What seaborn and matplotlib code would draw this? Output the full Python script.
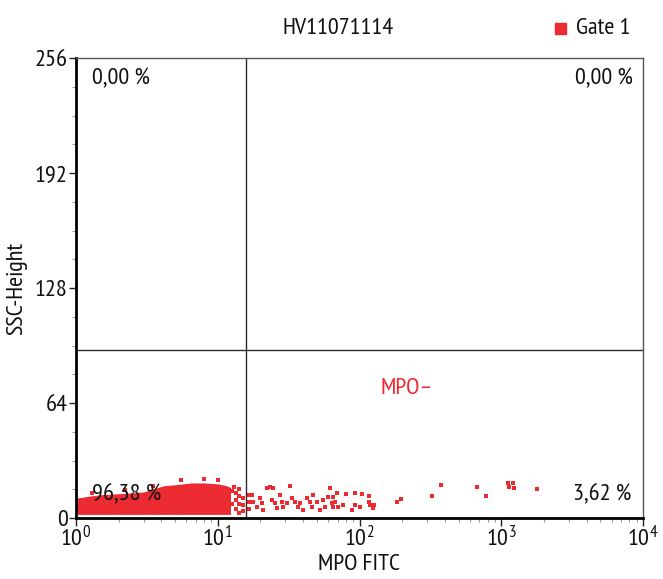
import matplotlib
matplotlib.use("Agg")
import matplotlib.pyplot as plt
from matplotlib import font_manager
from matplotlib.ticker import FixedLocator, LogLocator, NullFormatter
import seaborn as sns
import pandas as pd
import numpy as np

# ---------------- data ----------------
title = "HV11071114"
legend_label = "Gate 1"
x_label = "MPO FITC"
y_label = "SSC-Height"
y_ticks = [0, 64, 128, 192, 256]
x_ticks = [1, 10, 100, 1000, 10000]
x_tick_labels = [r"$\mathdefault{10^{0}}$", r"$\mathdefault{10^{1}}$", r"$\mathdefault{10^{2}}$",
                 r"$\mathdefault{10^{3}}$", r"$\mathdefault{10^{4}}$"]
gate_x = 15.9
gate_y = 93.5
quadrant_labels = ["0,00 %", "0,00 %", "96,38 %", "3,62 %"]
population_label = "MPO–"

# dense population outline (MPO FITC vs SSC-Height)
blob_x = [1.0, 1.2, 1.5, 2.0, 2.5, 3.0, 3.6, 4.2, 5.0, 6.5, 8.0, 10.0, 11.5, 12.3]
blob_top = [11, 12, 13, 13.5, 14, 14.5, 16.5, 18, 18.5, 19.5, 19.5, 19, 18, 17]
blob_bottom = [2, 2, 2, 2, 2, 2, 2, 2, 2, 2, 2, 2, 2, 2]

# sparse events
events_x = [1.3, 2.2, 3.5, 5.5, 8.0, 10.0, 12.6, 12.6, 13.0, 13.5, 13.5, 13.5, 14.2, 14.2, 14.2, 14.2,
            15.0, 15.0, 15.0, 16.5, 16.5, 16.5,
            17.4, 17.8, 18.8, 19.9, 20.4, 21.0, 22.1, 23.4, 24.7, 24.0, 25.3, 26.1, 27.5, 28.3,
            29.0, 30.6, 32.3, 33.2, 35.1, 37.0, 38.0, 40.2, 42.4, 44.8, 46.0, 47.2, 49.9, 52.6,
            55.6, 57.1, 60.3, 61.9, 63.6, 67.2, 69.0,
            65.4, 65.4, 70.8, 76.7, 80.3, 92.7, 92.7, 88.0, 100.5, 104.0, 116.0, 116.0, 118.7,
            127.0, 124.0, 185.0, 197.0,
            324.0, 376.0, 674.0, 780.0, 1116.0, 1211.0, 1135.0, 1230.0, 1786.0]
events_y = [14, 15.5, 18, 21, 21.5, 21, 8, 15, 17, 5, 10, 14, 3, 8, 12, 16,
            4, 7, 11, 5, 9, 13,
            12.8, 9.1, 6.3, 11.0, 8.2, 4.5, 16.5, 17.4, 16.5, 10.0, 8.2, 5.4, 12.8, 9.1,
            6.3, 8.2, 17.8, 11.0, 9.1, 6.3, 8.2, 4.5, 11.0, 9.1, 6.3, 12.8, 9.1, 4.5,
            10.0, 6.3, 11.9, 16.5, 8.2, 9.1, 13.7,
            11.9, 6.3, 6.3, 7.2, 13.4, 14.1, 7.2, 4.5, 6.3, 13.4, 12.2, 9.1, 7.2,
            7.2, 5.4, 9.1, 10.4,
            12.2, 18.4, 17.3, 12.2, 19.5, 19.5, 17.3, 16.7, 16.1]

# ---------------- style ----------------
sns.set_style("white")
avail = {f.name for f in font_manager.fontManager.ttflist}
main_font = "DejaVu Sans"
for cand in ["Myriad Pro", "PT Sans Narrow", "Fira Sans Condensed", "Asap Condensed",
             "Archivo Narrow", "Barlow Condensed"]:
    if cand in avail:
        main_font = cand
        break
plt.rcParams["font.family"] = [main_font, "DejaVu Sans"]
plt.rcParams["mathtext.fontset"] = "custom"
plt.rcParams["mathtext.rm"] = main_font
plt.rcParams["mathtext.it"] = main_font
plt.rcParams["mathtext.bf"] = main_font

RED = "#ec2a32"
TXT = "#111111"
FS = 17.5

fig = plt.figure(figsize=(6.63, 5.79), dpi=100)
ax = fig.add_axes([76 / 663, 61 / 579, (643 - 76) / 663, (518 - 58) / 579])

ax.fill_between(blob_x, blob_bottom, blob_top, color=RED, linewidth=0)
df = pd.DataFrame({"x": events_x, "y": events_y})
sns.scatterplot(data=df, x="x", y="y", ax=ax, color=RED, marker="s", s=5, linewidth=0, legend=False)

ax.set_xscale("log")
ax.set_xlim(1, 10000)
ax.set_ylim(0, 256)

ax.axvline(gate_x, color="#2a2a2a", lw=1.0, zorder=1)
ax.axhline(gate_y, color="#2a2a2a", lw=1.0, zorder=1)

ax.set_xticks(x_ticks)
ax.set_xticklabels(x_tick_labels)
ax.xaxis.set_minor_locator(LogLocator(base=10, subs=np.arange(2, 10)))
ax.xaxis.set_minor_formatter(NullFormatter())
ax.set_yticks(y_ticks)
ax.set_yticklabels([str(v) for v in y_ticks])
ax.yaxis.set_minor_locator(FixedLocator([16, 32, 48, 80, 96, 112, 144, 160, 176, 208, 224, 240]))

ax.tick_params(axis="both", which="major", direction="out", length=5, width=1, color="#222222",
               labelsize=FS, labelcolor=TXT, pad=1)
ax.tick_params(axis="both", which="minor", direction="out", length=3, width=0.8, color="#999999")
ax.tick_params(axis="x", which="major", length=6, pad=0)
ax.tick_params(axis="x", which="both", bottom=True)
ax.tick_params(axis="y", which="both", left=True)

for side in ["left", "bottom"]:
    ax.spines[side].set_color("black")
    ax.spines[side].set_linewidth(2)
for side in ["top", "right"]:
    ax.spines[side].set_color("#555555")
    ax.spines[side].set_linewidth(1)
    ax.spines[side].set_visible(True)

ax.set_xlabel(x_label, fontsize=FS, color=TXT, labelpad=2)
ax.set_ylabel(y_label, fontsize=FS, color=TXT, labelpad=5)

ax.text(0.028, 0.955, quadrant_labels[0], transform=ax.transAxes, fontsize=FS, color=TXT,
        ha="left", va="center")
ax.text(0.983, 0.955, quadrant_labels[1], transform=ax.transAxes, fontsize=FS, color=TXT,
        ha="right", va="center")
ax.text(0.028, 0.05, quadrant_labels[2], transform=ax.transAxes, fontsize=FS, color=TXT,
        ha="left", va="center", zorder=5)
ax.text(0.979, 0.05, quadrant_labels[3], transform=ax.transAxes, fontsize=FS, color=TXT,
        ha="right", va="center")
ax.text(140, 72, population_label, fontsize=FS, color=RED, ha="left", va="center")

fig.text(338 / 663, 1 - 28 / 579, title, fontsize=FS, color=TXT, ha="center", va="center")
fig.patches.append(plt.Rectangle((555 / 663, 1 - 34 / 579), 11 / 663, 11 / 579,
                                 transform=fig.transFigure, color=RED, figure=fig))
fig.text(576 / 663, 1 - 28 / 579, legend_label, fontsize=FS, color=TXT, ha="left", va="center")

fig.savefig("out.png", dpi=100)
